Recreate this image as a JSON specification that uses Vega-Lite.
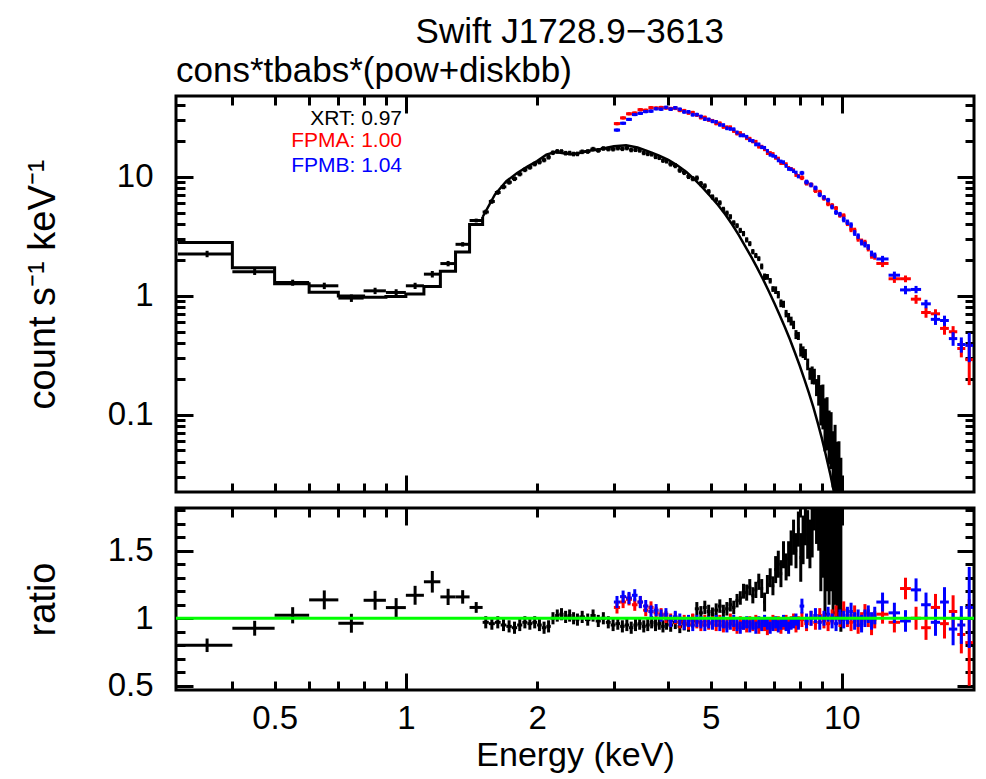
{
"$schema":"https://vega.github.io/schema/vega-lite/v6.json",
"background":"white",
"padding":{"left":22,"top":15,"right":13,"bottom":3},
"title":{"text":"Swift J1728.9−3613","anchor":"middle","fontSize":35,"offset":2,"dx":70},
"spacing":10,
"datasets":{
"xstep":[{"e":0.3,"m":2.81},{"e":0.4,"m":1.72},{"e":0.5,"m":1.265},{"e":0.6,"m":1.068},{"e":0.7,"m":0.993},{"e":0.8,"m":0.971},{"e":0.9,"m":0.988},{"e":1.0,"m":1.037},{"e":1.1,"m":1.197},{"e":1.2,"m":1.61},{"e":1.3,"m":2.34},{"e":1.4,"m":3.98},{"e":1.5,"m":4.6}],
"mod":[
{"e":1.5,"m":4.6},{"e":1.6,"m":7.1},{"e":1.7,"m":9.2},{"e":1.8,"m":10.8},{"e":1.9,"m":12.2},{"e":2.0,"m":13.6},{"e":2.1,"m":15.4},{"e":2.2,"m":16.2},{"e":2.3,"m":15.8},{"e":2.4,"m":15.5},{"e":2.5,"m":15.9},{"e":2.6,"m":16.5},{"e":2.8,"m":17.2},{"e":3.0,"m":18.1},{"e":3.2,"m":18.5},{"e":3.4,"m":17.7},{"e":3.6,"m":16.4},{"e":3.8,"m":15.2},{"e":4.0,"m":13.9},{"e":4.2,"m":12.5},{"e":4.4,"m":11.0},{"e":4.6,"m":9.5},{"e":4.8,"m":8.1},{"e":5.0,"m":6.85},{"e":5.2,"m":5.8},{"e":5.4,"m":4.85},{"e":5.6,"m":4.0},{"e":5.8,"m":3.25},{"e":6.0,"m":2.62},{"e":6.2,"m":2.12},{"e":6.4,"m":1.71},{"e":6.6,"m":1.37},{"e":6.8,"m":1.09},{"e":7.0,"m":0.87},{"e":7.2,"m":0.69},{"e":7.4,"m":0.545},{"e":7.6,"m":0.43},{"e":7.8,"m":0.335},{"e":8.0,"m":0.26},{"e":8.2,"m":0.2},{"e":8.4,"m":0.153},{"e":8.6,"m":0.116},{"e":8.8,"m":0.086},{"e":9.0,"m":0.063},{"e":9.2,"m":0.045},{"e":9.4,"m":0.032},{"e":9.6,"m":0.022},{"e":9.8,"m":0.015},{"e":10.0,"m":0.01}
],
"spec":[
{"i":"XRT","e":0.35,"de":0.05,"y":2.25,"dy":0.14,"r":0.8,"dr":0.05},
{"i":"XRT","e":0.45,"de":0.05,"y":1.59,"dy":0.094,"r":0.926,"dr":0.055},
{"i":"XRT","e":0.55,"de":0.05,"y":1.29,"dy":0.076,"r":1.022,"dr":0.06},
{"i":"XRT","e":0.65,"de":0.05,"y":1.213,"dy":0.075,"r":1.136,"dr":0.07},
{"i":"XRT","e":0.75,"de":0.05,"y":0.956,"dy":0.069,"r":0.963,"dr":0.07},
{"i":"XRT","e":0.85,"de":0.05,"y":1.1,"dy":0.068,"r":1.133,"dr":0.07},
{"i":"XRT","e":0.95,"de":0.05,"y":1.066,"dy":0.069,"r":1.079,"dr":0.07},
{"i":"XRT","e":1.05,"de":0.05,"y":1.213,"dy":0.073,"r":1.17,"dr":0.07},
{"i":"XRT","e":1.15,"de":0.05,"y":1.52,"dy":0.096,"r":1.27,"dr":0.08},
{"i":"XRT","e":1.25,"de":0.05,"y":1.866,"dy":0.097,"r":1.158,"dr":0.06},
{"i":"XRT","e":1.35,"de":0.05,"y":2.71,"dy":0.117,"r":1.158,"dr":0.05},
{"i":"XRT","e":1.45,"de":0.05,"y":4.3,"dy":0.16,"r":1.08,"dr":0.04},
{"i":"XRT","e":1.525,"de":0.025,"y":5.07,"dy":0.23,"r":0.97,"dr":0.045},
{"i":"XRT","e":1.575,"de":0.025,"y":6.22,"dy":0.28,"r":0.96,"dr":0.045},
{"i":"XRT","e":1.625,"de":0.025,"y":7.4,"dy":0.33,"r":0.97,"dr":0.045},
{"i":"XRT","e":1.675,"de":0.025,"y":8.25,"dy":0.37,"r":0.95,"dr":0.045},
{"i":"XRT","e":1.725,"de":0.025,"y":9.02,"dy":0.41,"r":0.94,"dr":0.045},
{"i":"XRT","e":1.775,"de":0.025,"y":9.67,"dy":0.44,"r":0.93,"dr":0.045},
{"i":"XRT","e":1.825,"de":0.025,"y":10.59,"dy":0.48,"r":0.95,"dr":0.045},
{"i":"XRT","e":1.875,"de":0.025,"y":11.49,"dy":0.52,"r":0.97,"dr":0.045},
{"i":"XRT","e":1.925,"de":0.025,"y":12.05,"dy":0.54,"r":0.96,"dr":0.045},
{"i":"XRT","e":1.975,"de":0.025,"y":12.85,"dy":0.58,"r":0.97,"dr":0.045},
{"i":"XRT","e":2.025,"de":0.025,"y":13.35,"dy":0.6,"r":0.95,"dr":0.045},
{"i":"XRT","e":2.075,"de":0.025,"y":13.9,"dy":0.63,"r":0.93,"dr":0.045},
{"i":"XRT","e":2.125,"de":0.025,"y":14.66,"dy":0.66,"r":0.94,"dr":0.045},
{"i":"XRT","e":2.175,"de":0.025,"y":16.0,"dy":0.72,"r":1.0,"dr":0.045},
{"i":"XRT","e":2.225,"de":0.025,"y":16.42,"dy":0.74,"r":1.02,"dr":0.045},
{"i":"XRT","e":2.275,"de":0.025,"y":16.38,"dy":0.74,"r":1.03,"dr":0.045},
{"i":"XRT","e":2.325,"de":0.025,"y":15.86,"dy":0.71,"r":1.01,"dr":0.045},
{"i":"XRT","e":2.375,"de":0.025,"y":15.89,"dy":0.72,"r":1.02,"dr":0.045},
{"i":"XRT","e":2.425,"de":0.025,"y":15.6,"dy":0.7,"r":1.0,"dr":0.045},
{"i":"XRT","e":2.475,"de":0.025,"y":15.64,"dy":0.7,"r":0.99,"dr":0.045},
{"i":"XRT","e":2.538,"de":0.0375,"y":16.29,"dy":0.73,"r":1.01,"dr":0.045},
{"i":"XRT","e":2.613,"de":0.0375,"y":16.38,"dy":0.74,"r":0.99,"dr":0.045},
{"i":"XRT","e":2.688,"de":0.0375,"y":17.15,"dy":0.77,"r":1.02,"dr":0.045},
{"i":"XRT","e":2.763,"de":0.0375,"y":16.73,"dy":0.75,"r":0.98,"dr":0.045},
{"i":"XRT","e":2.838,"de":0.0375,"y":17.37,"dy":0.78,"r":1.0,"dr":0.045},
{"i":"XRT","e":2.913,"de":0.0375,"y":17.18,"dy":0.77,"r":0.97,"dr":0.045},
{"i":"XRT","e":2.988,"de":0.0375,"y":17.15,"dy":0.77,"r":0.95,"dr":0.045},
{"i":"XRT","e":3.063,"de":0.0375,"y":17.5,"dy":0.79,"r":0.96,"dr":0.045},
{"i":"XRT","e":3.138,"de":0.0375,"y":17.28,"dy":0.78,"r":0.94,"dr":0.045},
{"i":"XRT","e":3.213,"de":0.0375,"y":17.53,"dy":0.79,"r":0.95,"dr":0.045},
{"i":"XRT","e":3.288,"de":0.0375,"y":16.88,"dy":0.76,"r":0.93,"dr":0.045},
{"i":"XRT","e":3.363,"de":0.0375,"y":16.96,"dy":0.76,"r":0.95,"dr":0.045},
{"i":"XRT","e":3.438,"de":0.0375,"y":16.75,"dy":0.75,"r":0.96,"dr":0.045},
{"i":"XRT","e":3.513,"de":0.0375,"y":15.95,"dy":0.72,"r":0.94,"dr":0.045},
{"i":"XRT","e":3.588,"de":0.0375,"y":15.66,"dy":0.7,"r":0.95,"dr":0.045},
{"i":"XRT","e":3.663,"de":0.0375,"y":15.54,"dy":0.7,"r":0.97,"dr":0.045},
{"i":"XRT","e":3.738,"de":0.0375,"y":14.79,"dy":0.67,"r":0.95,"dr":0.045},
{"i":"XRT","e":3.813,"de":0.0375,"y":14.52,"dy":0.65,"r":0.96,"dr":0.045},
{"i":"XRT","e":3.888,"de":0.0375,"y":13.75,"dy":0.62,"r":0.94,"dr":0.045},
{"i":"XRT","e":3.963,"de":0.0375,"y":13.57,"dy":0.61,"r":0.96,"dr":0.045},
{"i":"XRT","e":4.05,"de":0.05,"y":12.87,"dy":0.64,"r":0.95,"dr":0.05},
{"i":"XRT","e":4.15,"de":0.05,"y":12.46,"dy":0.62,"r":0.97,"dr":0.05},
{"i":"XRT","e":4.25,"de":0.05,"y":11.4,"dy":0.57,"r":0.94,"dr":0.05},
{"i":"XRT","e":4.35,"de":0.05,"y":10.92,"dy":0.55,"r":0.96,"dr":0.05},
{"i":"XRT","e":4.45,"de":0.05,"y":10.1,"dy":0.5,"r":0.95,"dr":0.05},
{"i":"XRT","e":4.55,"de":0.05,"y":9.68,"dy":0.48,"r":0.98,"dr":0.05},
{"i":"XRT","e":4.65,"de":0.05,"y":9.79,"dy":0.49,"r":1.07,"dr":0.05},
{"i":"XRT","e":4.75,"de":0.05,"y":8.79,"dy":0.44,"r":1.04,"dr":0.05},
{"i":"XRT","e":4.85,"de":0.05,"y":8.41,"dy":0.42,"r":1.08,"dr":0.05},
{"i":"XRT","e":4.95,"de":0.05,"y":7.52,"dy":0.38,"r":1.05,"dr":0.05},
{"i":"XRT","e":5.05,"de":0.05,"y":6.79,"dy":0.34,"r":1.03,"dr":0.05},
{"i":"XRT","e":5.15,"de":0.05,"y":6.42,"dy":0.32,"r":1.06,"dr":0.05},
{"i":"XRT","e":5.25,"de":0.05,"y":6.06,"dy":0.3,"r":1.09,"dr":0.05},
{"i":"XRT","e":5.35,"de":0.05,"y":5.34,"dy":0.27,"r":1.05,"dr":0.05},
{"i":"XRT","e":5.45,"de":0.05,"y":4.96,"dy":0.25,"r":1.07,"dr":0.05},
{"i":"XRT","e":5.55,"de":0.05,"y":4.63,"dy":0.23,"r":1.1,"dr":0.05},
{"i":"XRT","e":5.65,"de":0.05,"y":4.11,"dy":0.21,"r":1.08,"dr":0.05},
{"i":"XRT","e":5.75,"de":0.05,"y":3.89,"dy":0.19,"r":1.13,"dr":0.05},
{"i":"XRT","e":5.85,"de":0.05,"y":3.55,"dy":0.18,"r":1.15,"dr":0.05},
{"i":"XRT","e":5.95,"de":0.05,"y":3.34,"dy":0.17,"r":1.2,"dr":0.055},
{"i":"XRT","e":6.05,"de":0.05,"y":2.957,"dy":0.149,"r":1.19,"dr":0.06},
{"i":"XRT","e":6.15,"de":0.05,"y":2.749,"dy":0.134,"r":1.23,"dr":0.06},
{"i":"XRT","e":6.25,"de":0.05,"y":2.352,"dy":0.121,"r":1.17,"dr":0.06},
{"i":"XRT","e":6.35,"de":0.05,"y":2.184,"dy":0.108,"r":1.21,"dr":0.06},
{"i":"XRT","e":6.45,"de":0.05,"y":2.055,"dy":0.097,"r":1.27,"dr":0.06},
{"i":"XRT","e":6.55,"de":0.05,"y":1.767,"dy":0.101,"r":1.22,"dr":0.07},
{"i":"XRT","e":6.65,"de":0.05,"y":1.448,"dy":0.091,"r":1.12,"dr":0.07},
{"i":"XRT","e":6.75,"de":0.05,"y":1.443,"dy":0.081,"r":1.25,"dr":0.07},
{"i":"XRT","e":6.85,"de":0.05,"y":1.339,"dy":0.072,"r":1.3,"dr":0.07},
{"i":"XRT","e":6.95,"de":0.05,"y":1.141,"dy":0.064,"r":1.24,"dr":0.07},
{"i":"XRT","e":7.05,"de":0.05,"y":1.117,"dy":0.082,"r":1.36,"dr":0.1},
{"i":"XRT","e":7.15,"de":0.05,"y":1.023,"dy":0.073,"r":1.4,"dr":0.1},
{"i":"XRT","e":7.25,"de":0.05,"y":0.866,"dy":0.065,"r":1.33,"dr":0.1},
{"i":"XRT","e":7.35,"de":0.05,"y":0.85,"dy":0.058,"r":1.47,"dr":0.1},
{"i":"XRT","e":7.45,"de":0.05,"y":0.709,"dy":0.051,"r":1.38,"dr":0.1},
{"i":"XRT","e":7.55,"de":0.05,"y":0.657,"dy":0.059,"r":1.44,"dr":0.13},
{"i":"XRT","e":7.65,"de":0.05,"y":0.614,"dy":0.053,"r":1.52,"dr":0.13},
{"i":"XRT","e":7.75,"de":0.05,"y":0.57,"dy":0.046,"r":1.6,"dr":0.13},
{"i":"XRT","e":7.85,"de":0.05,"y":0.473,"dy":0.041,"r":1.5,"dr":0.13},
{"i":"XRT","e":7.95,"de":0.05,"y":0.46,"dy":0.036,"r":1.66,"dr":0.13},
{"i":"XRT","e":8.05,"de":0.05,"y":0.352,"dy":0.044,"r":1.45,"dr":0.18},
{"i":"XRT","e":8.15,"de":0.05,"y":0.337,"dy":0.038,"r":1.58,"dr":0.18},
{"i":"XRT","e":8.25,"de":0.05,"y":0.322,"dy":0.034,"r":1.72,"dr":0.18},
{"i":"XRT","e":8.35,"de":0.05,"y":0.266,"dy":0.03,"r":1.62,"dr":0.18},
{"i":"XRT","e":8.45,"de":0.05,"y":0.222,"dy":0.026,"r":1.55,"dr":0.18},
{"i":"XRT","e":8.55,"de":0.05,"y":0.217,"dy":0.037,"r":1.75,"dr":0.3},
{"i":"XRT","e":8.65,"de":0.05,"y":0.211,"dy":0.032,"r":1.95,"dr":0.3},
{"i":"XRT","e":8.75,"de":0.05,"y":0.171,"dy":0.028,"r":1.85,"dr":0.3},
{"i":"XRT","e":8.85,"de":0.05,"y":0.167,"dy":0.048,"r":2.1,"dr":0.6},
{"i":"XRT","e":8.95,"de":0.05,"y":0.129,"dy":0.048,"r":1.9,"dr":0.7},
{"i":"XRT","e":9.05,"de":0.05,"y":0.127,"dy":0.052,"r":2.2,"dr":0.9},
{"i":"XRT","e":9.15,"de":0.05,"y":0.093,"dy":0.044,"r":1.9,"dr":0.9},
{"i":"XRT","e":9.25,"de":0.05,"y":0.095,"dy":0.045,"r":2.3,"dr":1.1},
{"i":"XRT","e":9.35,"de":0.05,"y":0.0731,"dy":0.035,"r":2.1,"dr":1.0},
{"i":"XRT","e":9.45,"de":0.05,"y":0.0698,"dy":0.035,"r":2.4,"dr":1.2},
{"i":"XRT","e":9.55,"de":0.05,"y":0.0484,"dy":0.024,"r":2.0,"dr":1.0},
{"i":"XRT","e":9.65,"de":0.05,"y":0.052,"dy":0.03,"r":2.6,"dr":1.5},
{"i":"XRT","e":9.75,"de":0.05,"y":0.038,"dy":0.021,"r":2.3,"dr":1.3},
{"i":"XRT","e":9.85,"de":0.05,"y":0.0366,"dy":0.023,"r":2.7,"dr":1.7},
{"i":"XRT","e":9.95,"de":0.05,"y":0.0266,"dy":0.0167,"r":2.4,"dr":1.5},
{"i":"FPMA","e":3.05,"de":0.05,"y":28.1,"dy":0.91,"r":1.08,"dr":0.045},
{"i":"FPMA","e":3.15,"de":0.05,"y":31.4,"dy":0.98,"r":1.12,"dr":0.045},
{"i":"FPMA","e":3.25,"de":0.05,"y":34.0,"dy":1.05,"r":1.14,"dr":0.045},
{"i":"FPMA","e":3.35,"de":0.05,"y":34.5,"dy":1.09,"r":1.1,"dr":0.045},
{"i":"FPMA","e":3.45,"de":0.05,"y":36.8,"dy":1.15,"r":1.12,"dr":0.045},
{"i":"FPMA","e":3.55,"de":0.05,"y":36.4,"dy":1.2,"r":1.06,"dr":0.045},
{"i":"FPMA","e":3.65,"de":0.05,"y":38.3,"dy":1.25,"r":1.08,"dr":0.045},
{"i":"FPMA","e":3.75,"de":0.05,"y":38.0,"dy":1.27,"r":1.04,"dr":0.045},
{"i":"FPMA","e":3.85,"de":0.05,"y":38.4,"dy":1.3,"r":1.03,"dr":0.045},
{"i":"FPMA","e":3.95,"de":0.05,"y":38.1,"dy":1.32,"r":1.01,"dr":0.045},
{"i":"FPMA","e":4.05,"de":0.05,"y":37.6,"dy":1.33,"r":0.99,"dr":0.045},
{"i":"FPMA","e":4.15,"de":0.05,"y":37.85,"dy":1.33,"r":1.0,"dr":0.045},
{"i":"FPMA","e":4.25,"de":0.05,"y":36.4,"dy":1.32,"r":0.97,"dr":0.045},
{"i":"FPMA","e":4.35,"de":0.05,"y":36.1,"dy":1.29,"r":0.98,"dr":0.045},
{"i":"FPMA","e":4.45,"de":0.05,"y":34.6,"dy":1.26,"r":0.96,"dr":0.045},
{"i":"FPMA","e":4.55,"de":0.05,"y":34.8,"dy":1.23,"r":0.99,"dr":0.045},
{"i":"FPMA","e":4.65,"de":0.05,"y":33.2,"dy":1.2,"r":0.97,"dr":0.045},
{"i":"FPMA","e":4.75,"de":0.05,"y":31.6,"dy":1.16,"r":0.95,"dr":0.045},
{"i":"FPMA","e":4.85,"de":0.05,"y":31.7,"dy":1.13,"r":0.98,"dr":0.045},
{"i":"FPMA","e":4.95,"de":0.05,"y":30.2,"dy":1.1,"r":0.96,"dr":0.045},
{"i":"FPMA","e":5.05,"de":0.05,"y":29.7,"dy":1.07,"r":0.97,"dr":0.045},
{"i":"FPMA","e":5.15,"de":0.05,"y":28.2,"dy":1.04,"r":0.95,"dr":0.045},
{"i":"FPMA","e":5.25,"de":0.05,"y":28.3,"dy":1.01,"r":0.98,"dr":0.045},
{"i":"FPMA","e":5.35,"de":0.05,"y":26.4,"dy":0.98,"r":0.94,"dr":0.045},
{"i":"FPMA","e":5.45,"de":0.05,"y":26.2,"dy":0.96,"r":0.96,"dr":0.045},
{"i":"FPMA","e":5.55,"de":0.05,"y":26.2,"dy":0.93,"r":0.99,"dr":0.045},
{"i":"FPMA","e":5.65,"de":0.05,"y":24.4,"dy":0.9,"r":0.95,"dr":0.045},
{"i":"FPMA","e":5.75,"de":0.05,"y":23.2,"dy":0.87,"r":0.93,"dr":0.045},
{"i":"FPMA","e":5.85,"de":0.05,"y":23.4,"dy":0.84,"r":0.97,"dr":0.045},
{"i":"FPMA","e":5.95,"de":0.05,"y":22.4,"dy":0.82,"r":0.96,"dr":0.045},
{"i":"FPMA","e":6.05,"de":0.05,"y":21.2,"dy":0.79,"r":0.94,"dr":0.045},
{"i":"FPMA","e":6.15,"de":0.05,"y":21.0,"dy":0.76,"r":0.97,"dr":0.045},
{"i":"FPMA","e":6.25,"de":0.05,"y":19.9,"dy":0.73,"r":0.95,"dr":0.045},
{"i":"FPMA","e":6.35,"de":0.05,"y":19.8,"dy":0.71,"r":0.98,"dr":0.045},
{"i":"FPMA","e":6.45,"de":0.05,"y":18.0,"dy":0.68,"r":0.93,"dr":0.045},
{"i":"FPMA","e":6.55,"de":0.05,"y":18.0,"dy":0.65,"r":0.96,"dr":0.045},
{"i":"FPMA","e":6.65,"de":0.05,"y":17.1,"dy":0.63,"r":0.95,"dr":0.045},
{"i":"FPMA","e":6.75,"de":0.05,"y":15.9,"dy":0.6,"r":0.92,"dr":0.045},
{"i":"FPMA","e":6.85,"de":0.05,"y":15.9,"dy":0.58,"r":0.96,"dr":0.045},
{"i":"FPMA","e":6.95,"de":0.05,"y":15.6,"dy":0.56,"r":0.98,"dr":0.045},
{"i":"FPMA","e":7.05,"de":0.05,"y":14.5,"dy":0.54,"r":0.95,"dr":0.045},
{"i":"FPMA","e":7.15,"de":0.05,"y":14.3,"dy":0.51,"r":0.97,"dr":0.045},
{"i":"FPMA","e":7.25,"de":0.05,"y":13.1,"dy":0.49,"r":0.93,"dr":0.045},
{"i":"FPMA","e":7.35,"de":0.05,"y":13.1,"dy":0.48,"r":0.96,"dr":0.045},
{"i":"FPMA","e":7.45,"de":0.05,"y":12.8,"dy":0.46,"r":0.98,"dr":0.045},
{"i":"FPMA","e":7.55,"de":0.05,"y":11.9,"dy":0.44,"r":0.95,"dr":0.045},
{"i":"FPMA","e":7.65,"de":0.05,"y":11.7,"dy":0.42,"r":0.97,"dr":0.045},
{"i":"FPMA","e":7.75,"de":0.05,"y":11.4,"dy":0.4,"r":0.99,"dr":0.045},
{"i":"FPMA","e":7.85,"de":0.05,"y":10.4,"dy":0.39,"r":0.94,"dr":0.045},
{"i":"FPMA","e":7.95,"de":0.05,"y":10.2,"dy":0.37,"r":0.97,"dr":0.045},
{"i":"FPMA","e":8.1,"de":0.1,"y":9.85,"dy":0.45,"r":0.99,"dr":0.055},
{"i":"FPMA","e":8.3,"de":0.1,"y":8.88,"dy":0.42,"r":0.96,"dr":0.055},
{"i":"FPMA","e":8.5,"de":0.1,"y":8.58,"dy":0.39,"r":1.0,"dr":0.055},
{"i":"FPMA","e":8.7,"de":0.1,"y":7.69,"dy":0.36,"r":0.97,"dr":0.055},
{"i":"FPMA","e":8.9,"de":0.1,"y":7.46,"dy":0.33,"r":1.02,"dr":0.055},
{"i":"FPMA","e":9.1,"de":0.1,"y":6.61,"dy":0.3,"r":0.98,"dr":0.055},
{"i":"FPMA","e":9.3,"de":0.1,"y":5.95,"dy":0.28,"r":0.96,"dr":0.055},
{"i":"FPMA","e":9.5,"de":0.1,"y":5.76,"dy":0.26,"r":1.01,"dr":0.055},
{"i":"FPMA","e":9.7,"de":0.1,"y":5.45,"dy":0.24,"r":1.04,"dr":0.055},
{"i":"FPMA","e":9.9,"de":0.1,"y":4.76,"dy":0.22,"r":0.99,"dr":0.055},
{"i":"FPMA","e":10.1,"de":0.1,"y":4.7,"dy":0.24,"r":1.06,"dr":0.065},
{"i":"FPMA","e":10.3,"de":0.1,"y":4.08,"dy":0.22,"r":1.0,"dr":0.065},
{"i":"FPMA","e":10.5,"de":0.1,"y":3.64,"dy":0.21,"r":0.97,"dr":0.065},
{"i":"FPMA","e":10.7,"de":0.1,"y":3.55,"dy":0.19,"r":1.03,"dr":0.065},
{"i":"FPMA","e":10.9,"de":0.1,"y":3.02,"dy":0.17,"r":0.95,"dr":0.065},
{"i":"FPMA","e":11.1,"de":0.1,"y":2.87,"dy":0.16,"r":0.98,"dr":0.065},
{"i":"FPMA","e":11.3,"de":0.1,"y":2.81,"dy":0.15,"r":1.04,"dr":0.065},
{"i":"FPMA","e":11.5,"de":0.1,"y":2.5,"dy":0.14,"r":1.0,"dr":0.065},
{"i":"FPMA","e":11.7,"de":0.1,"y":2.18,"dy":0.13,"r":0.94,"dr":0.065},
{"i":"FPMA","e":11.9,"de":0.1,"y":2.13,"dy":0.12,"r":0.99,"dr":0.065},
{"i":"FPMA","e":12.4,"de":0.4,"y":1.87,"dy":0.127,"r":1.03,"dr":0.07},
{"i":"FPMA","e":13.2,"de":0.4,"y":1.39,"dy":0.107,"r":0.97,"dr":0.075},
{"i":"FPMA","e":14.0,"de":0.4,"y":1.39,"dy":0.091,"r":1.22,"dr":0.08},
{"i":"FPMA","e":14.8,"de":0.4,"y":0.936,"dy":0.08,"r":1.0,"dr":0.085},
{"i":"FPMA","e":15.6,"de":0.4,"y":0.723,"dy":0.07,"r":0.93,"dr":0.09},
{"i":"FPMA","e":16.4,"de":0.4,"y":0.705,"dy":0.065,"r":1.08,"dr":0.1},
{"i":"FPMA","e":17.2,"de":0.4,"y":0.531,"dy":0.061,"r":0.96,"dr":0.11},
{"i":"FPMA","e":18.0,"de":0.4,"y":0.498,"dy":0.057,"r":1.05,"dr":0.12},
{"i":"FPMA","e":18.8,"de":0.4,"y":0.36,"dy":0.057,"r":0.88,"dr":0.14},
{"i":"FPMA","e":19.6,"de":0.4,"y":0.29,"dy":0.113,"r":0.82,"dr":0.32},
{"i":"FPMB","e":3.05,"de":0.05,"y":24.8,"dy":0.77,"r":1.12,"dr":0.045},
{"i":"FPMB","e":3.15,"de":0.05,"y":28.3,"dy":0.85,"r":1.16,"dr":0.045},
{"i":"FPMB","e":3.25,"de":0.05,"y":30.5,"dy":0.92,"r":1.15,"dr":0.045},
{"i":"FPMB","e":3.35,"de":0.05,"y":33.5,"dy":1.0,"r":1.17,"dr":0.045},
{"i":"FPMB","e":3.45,"de":0.05,"y":34.3,"dy":1.08,"r":1.12,"dr":0.045},
{"i":"FPMB","e":3.55,"de":0.05,"y":35.5,"dy":1.13,"r":1.09,"dr":0.045},
{"i":"FPMB","e":3.65,"de":0.05,"y":35.8,"dy":1.19,"r":1.05,"dr":0.045},
{"i":"FPMB","e":3.75,"de":0.05,"y":37.5,"dy":1.23,"r":1.06,"dr":0.045},
{"i":"FPMB","e":3.85,"de":0.05,"y":37.2,"dy":1.27,"r":1.02,"dr":0.045},
{"i":"FPMB","e":3.95,"de":0.05,"y":38.5,"dy":1.3,"r":1.03,"dr":0.045},
{"i":"FPMB","e":4.05,"de":0.05,"y":37.2,"dy":1.33,"r":0.98,"dr":0.045},
{"i":"FPMB","e":4.15,"de":0.05,"y":38.2,"dy":1.33,"r":1.01,"dr":0.045},
{"i":"FPMB","e":4.25,"de":0.05,"y":37.1,"dy":1.32,"r":0.99,"dr":0.045},
{"i":"FPMB","e":4.35,"de":0.05,"y":35.3,"dy":1.29,"r":0.96,"dr":0.045},
{"i":"FPMB","e":4.45,"de":0.05,"y":35.3,"dy":1.26,"r":0.98,"dr":0.045},
{"i":"FPMB","e":4.55,"de":0.05,"y":33.4,"dy":1.23,"r":0.95,"dr":0.045},
{"i":"FPMB","e":4.65,"de":0.05,"y":33.5,"dy":1.2,"r":0.98,"dr":0.045},
{"i":"FPMB","e":4.75,"de":0.05,"y":32.3,"dy":1.16,"r":0.97,"dr":0.045},
{"i":"FPMB","e":4.85,"de":0.05,"y":30.7,"dy":1.13,"r":0.95,"dr":0.045},
{"i":"FPMB","e":4.95,"de":0.05,"y":30.5,"dy":1.1,"r":0.97,"dr":0.045},
{"i":"FPMB","e":5.05,"de":0.05,"y":29.4,"dy":1.07,"r":0.96,"dr":0.045},
{"i":"FPMB","e":5.15,"de":0.05,"y":29.1,"dy":1.04,"r":0.98,"dr":0.045},
{"i":"FPMB","e":5.25,"de":0.05,"y":27.5,"dy":1.01,"r":0.95,"dr":0.045},
{"i":"FPMB","e":5.35,"de":0.05,"y":27.3,"dy":0.98,"r":0.97,"dr":0.045},
{"i":"FPMB","e":5.45,"de":0.05,"y":25.7,"dy":0.96,"r":0.94,"dr":0.045},
{"i":"FPMB","e":5.55,"de":0.05,"y":25.4,"dy":0.93,"r":0.96,"dr":0.045},
{"i":"FPMB","e":5.65,"de":0.05,"y":25.2,"dy":0.9,"r":0.98,"dr":0.045},
{"i":"FPMB","e":5.75,"de":0.05,"y":23.7,"dy":0.87,"r":0.95,"dr":0.045},
{"i":"FPMB","e":5.85,"de":0.05,"y":22.4,"dy":0.84,"r":0.93,"dr":0.045},
{"i":"FPMB","e":5.95,"de":0.05,"y":22.4,"dy":0.82,"r":0.96,"dr":0.045},
{"i":"FPMB","e":6.05,"de":0.05,"y":21.8,"dy":0.79,"r":0.97,"dr":0.045},
{"i":"FPMB","e":6.15,"de":0.05,"y":20.4,"dy":0.76,"r":0.94,"dr":0.045},
{"i":"FPMB","e":6.25,"de":0.05,"y":20.1,"dy":0.73,"r":0.96,"dr":0.045},
{"i":"FPMB","e":6.35,"de":0.05,"y":18.8,"dy":0.71,"r":0.93,"dr":0.045},
{"i":"FPMB","e":6.45,"de":0.05,"y":18.8,"dy":0.68,"r":0.97,"dr":0.045},
{"i":"FPMB","e":6.55,"de":0.05,"y":17.8,"dy":0.65,"r":0.95,"dr":0.045},
{"i":"FPMB","e":6.65,"de":0.05,"y":17.6,"dy":0.63,"r":0.98,"dr":0.045},
{"i":"FPMB","e":6.75,"de":0.05,"y":16.6,"dy":0.6,"r":0.96,"dr":0.045},
{"i":"FPMB","e":6.85,"de":0.05,"y":15.4,"dy":0.58,"r":0.93,"dr":0.045},
{"i":"FPMB","e":6.95,"de":0.05,"y":15.1,"dy":0.56,"r":0.95,"dr":0.045},
{"i":"FPMB","e":7.05,"de":0.05,"y":14.8,"dy":0.54,"r":0.97,"dr":0.045},
{"i":"FPMB","e":7.15,"de":0.05,"y":13.8,"dy":0.51,"r":0.94,"dr":0.045},
{"i":"FPMB","e":7.25,"de":0.05,"y":13.5,"dy":0.49,"r":0.96,"dr":0.045},
{"i":"FPMB","e":7.35,"de":0.05,"y":13.3,"dy":0.48,"r":0.98,"dr":0.045},
{"i":"FPMB","e":7.45,"de":0.05,"y":12.4,"dy":0.46,"r":0.95,"dr":0.045},
{"i":"FPMB","e":7.55,"de":0.05,"y":11.7,"dy":0.44,"r":0.93,"dr":0.045},
{"i":"FPMB","e":7.65,"de":0.05,"y":11.6,"dy":0.42,"r":0.96,"dr":0.045},
{"i":"FPMB","e":7.75,"de":0.05,"y":11.2,"dy":0.4,"r":0.97,"dr":0.045},
{"i":"FPMB","e":7.85,"de":0.05,"y":10.9,"dy":0.39,"r":0.99,"dr":0.045},
{"i":"FPMB","e":7.95,"de":0.05,"y":10.1,"dy":0.37,"r":0.96,"dr":0.045},
{"i":"FPMB","e":8.1,"de":0.1,"y":10.8,"dy":0.45,"r":1.09,"dr":0.055},
{"i":"FPMB","e":8.3,"de":0.1,"y":9.07,"dy":0.42,"r":0.98,"dr":0.055},
{"i":"FPMB","e":8.5,"de":0.1,"y":8.58,"dy":0.39,"r":1.0,"dr":0.055},
{"i":"FPMB","e":8.7,"de":0.1,"y":8.09,"dy":0.36,"r":1.02,"dr":0.055},
{"i":"FPMB","e":8.9,"de":0.1,"y":7.09,"dy":0.33,"r":0.97,"dr":0.055},
{"i":"FPMB","e":9.1,"de":0.1,"y":6.74,"dy":0.3,"r":1.0,"dr":0.055},
{"i":"FPMB","e":9.3,"de":0.1,"y":6.39,"dy":0.28,"r":1.03,"dr":0.055},
{"i":"FPMB","e":9.5,"de":0.1,"y":5.59,"dy":0.26,"r":0.98,"dr":0.055},
{"i":"FPMB","e":9.7,"de":0.1,"y":5.03,"dy":0.24,"r":0.96,"dr":0.055},
{"i":"FPMB","e":9.9,"de":0.1,"y":4.86,"dy":0.22,"r":1.01,"dr":0.055},
{"i":"FPMB","e":10.1,"de":0.1,"y":4.39,"dy":0.24,"r":0.99,"dr":0.065},
{"i":"FPMB","e":10.3,"de":0.1,"y":4.16,"dy":0.22,"r":1.02,"dr":0.065},
{"i":"FPMB","e":10.5,"de":0.1,"y":3.94,"dy":0.21,"r":1.05,"dr":0.065},
{"i":"FPMB","e":10.7,"de":0.1,"y":3.38,"dy":0.19,"r":0.98,"dr":0.065},
{"i":"FPMB","e":10.9,"de":0.1,"y":3.18,"dy":0.17,"r":1.0,"dr":0.065},
{"i":"FPMB","e":11.1,"de":0.1,"y":2.81,"dy":0.16,"r":0.96,"dr":0.065},
{"i":"FPMB","e":11.3,"de":0.1,"y":2.7,"dy":0.15,"r":1.0,"dr":0.065},
{"i":"FPMB","e":11.5,"de":0.1,"y":2.58,"dy":0.14,"r":1.03,"dr":0.065},
{"i":"FPMB","e":11.7,"de":0.1,"y":2.27,"dy":0.13,"r":0.98,"dr":0.065},
{"i":"FPMB","e":11.9,"de":0.1,"y":2.19,"dy":0.12,"r":1.02,"dr":0.065},
{"i":"FPMB","e":12.4,"de":0.4,"y":2.04,"dy":0.127,"r":1.12,"dr":0.07},
{"i":"FPMB","e":13.2,"de":0.4,"y":1.49,"dy":0.107,"r":1.04,"dr":0.075},
{"i":"FPMB","e":14.0,"de":0.4,"y":1.12,"dy":0.091,"r":0.98,"dr":0.08},
{"i":"FPMB","e":14.8,"de":0.4,"y":1.13,"dy":0.08,"r":1.21,"dr":0.085},
{"i":"FPMB","e":15.6,"de":0.4,"y":0.855,"dy":0.07,"r":1.1,"dr":0.09},
{"i":"FPMB","e":16.4,"de":0.4,"y":0.633,"dy":0.065,"r":0.97,"dr":0.1},
{"i":"FPMB","e":17.2,"de":0.4,"y":0.619,"dy":0.061,"r":1.12,"dr":0.11},
{"i":"FPMB","e":18.0,"de":0.4,"y":0.436,"dy":0.057,"r":0.92,"dr":0.12},
{"i":"FPMB","e":18.8,"de":0.4,"y":0.389,"dy":0.057,"r":0.95,"dr":0.14},
{"i":"FPMB","e":19.6,"de":0.4,"y":0.382,"dy":0.106,"r":1.08,"dr":0.3}
]
},
"vconcat":[
{
"width":798,"height":396,
"title":{"text":"cons*tbabs*(pow+diskbb)","anchor":"start","frame":"group","fontSize":35,"offset":6},
"resolve":{"axis":{"x":"independent","y":"independent"}},
"layer":[
{"data":{"name":"xstep"},"mark":{"type":"line","interpolate":"step-after","color":"#000000","strokeWidth":3,"clip":true},
 "encoding":{"x":{"field":"e","type":"quantitative","scale":{"type":"log","domain":[0.297,20.1],"nice":false},"axis":null},
 "y":{"field":"m","type":"quantitative","scale":{"type":"log","domain":[0.0223,48],"nice":false},"axis":null}}},
{"data":{"name":"mod"},"mark":{"type":"line","strokeWidth":2.5,"clip":true,"color":"#000000"},
 "encoding":{"x":{"field":"e","type":"quantitative","scale":{"type":"log","domain":[0.297,20.1],"nice":false},"axis":null},
 "y":{"field":"m","type":"quantitative","scale":{"type":"log","domain":[0.0223,48],"nice":false},"axis":null}}},
{"data":{"name":"spec"},"mark":{"type":"errorbar","thickness":3,"clip":true},
 "encoding":{"x":{"field":"e","type":"quantitative","scale":{"type":"log","domain":[0.297,20.1],"nice":false},"axis":null},
 "xError":{"field":"de"},
 "y":{"field":"y","type":"quantitative","scale":{"type":"log","domain":[0.0223,48],"nice":false},"axis":null},
 "color":{"field":"i","type":"nominal","scale":{"domain":["XRT","FPMA","FPMB"],"range":["#000000","#ff0000","#0000ff"]},"legend":null}}},
{"data":{"name":"spec"},"mark":{"type":"errorbar","thickness":3,"clip":true},
 "encoding":{"x":{"field":"e","type":"quantitative","scale":{"type":"log","domain":[0.297,20.1],"nice":false},"axis":null},
 "y":{"field":"y","type":"quantitative","scale":{"type":"log","domain":[0.0223,48],"nice":false},"axis":null},
 "yError":{"field":"dy"},
 "color":{"field":"i","type":"nominal","scale":{"domain":["XRT","FPMA","FPMB"],"range":["#000000","#ff0000","#0000ff"]},"legend":null}}},
{"data":{"values":[{"label":"XRT: 0.97"}]},"mark":{"type":"text","align":"right","baseline":"middle","fontSize":21,"color":"#000000"},
 "encoding":{"x":{"datum":0.98,"type":"quantitative","scale":{"type":"log","domain":[0.297,20.1],"nice":false},"axis":null},
 "y":{"datum":30.5,"type":"quantitative","scale":{"type":"log","domain":[0.0223,48],"nice":false},"axis":null},
 "text":{"field":"label"}}},
{"data":{"values":[{"label":"FPMA: 1.00"}]},"mark":{"type":"text","align":"right","baseline":"middle","fontSize":21,"color":"#ff0000"},
 "encoding":{"x":{"datum":0.98,"type":"quantitative","scale":{"type":"log","domain":[0.297,20.1],"nice":false},"axis":null},
 "y":{"datum":19.9,"type":"quantitative","scale":{"type":"log","domain":[0.0223,48],"nice":false},"axis":null},
 "text":{"field":"label"}}},
{"data":{"values":[{"label":"FPMB: 1.04"}]},"mark":{"type":"text","align":"right","baseline":"middle","fontSize":21,"color":"#0000ff"},
 "encoding":{"x":{"datum":0.98,"type":"quantitative","scale":{"type":"log","domain":[0.297,20.1],"nice":false},"axis":null},
 "y":{"datum":12.3,"type":"quantitative","scale":{"type":"log","domain":[0.0223,48],"nice":false},"axis":null},
 "text":{"field":"label"}}},
{"data":{"name":"xstep"},"mark":{"type":"point","opacity":0,"clip":true},
 "encoding":{"x":{"field":"e","type":"quantitative","scale":{"type":"log","domain":[0.297,20.1],"nice":false},"axis":null},
 "y":{"field":"m","type":"quantitative","scale":{"type":"log","domain":[0.0223,48],"nice":false},"axis":{"orient":"left","values":[0.1,1,10],"ticks":false,"labelPadding":23,"format":"~g","title":"count s⁻¹ keV⁻¹","titleFontSize":38,"titlePadding":45,"titleY":188}}}},
{"data":{"name":"xstep"},"mark":{"type":"point","opacity":0,"clip":true},
 "encoding":{"x":{"field":"e","type":"quantitative","scale":{"type":"log","domain":[0.297,20.1],"nice":false},"axis":{"orient":"bottom","values":[1,10],"tickSize":-17,"labels":false,"title":null}},
 "y":{"field":"m","type":"quantitative","scale":{"type":"log","domain":[0.0223,48],"nice":false},"axis":{"orient":"left","values":[0.1,1,10],"tickSize":-17,"labels":false,"title":null}}}},
{"data":{"name":"xstep"},"mark":{"type":"point","opacity":0,"clip":true},
 "encoding":{"x":{"field":"e","type":"quantitative","scale":{"type":"log","domain":[0.297,20.1],"nice":false},"axis":{"orient":"bottom","values":[0.4,0.5,0.6,0.7,0.8,0.9,2,3,4,5,6,7,8,9],"tickSize":-9,"labels":false,"title":null}},
 "y":{"field":"m","type":"quantitative","scale":{"type":"log","domain":[0.0223,48],"nice":false},"axis":{"orient":"left","values":[0.03,0.04,0.05,0.06,0.07,0.08,0.09,0.2,0.3,0.4,0.5,0.6,0.7,0.8,0.9,2,3,4,5,6,7,8,9,20,30,40],"tickSize":-9,"labels":false,"title":null}}}},
{"data":{"name":"xstep"},"mark":{"type":"point","opacity":0,"clip":true},
 "encoding":{"x":{"field":"e","type":"quantitative","scale":{"type":"log","domain":[0.297,20.1],"nice":false},"axis":{"orient":"top","values":[1,10],"tickSize":-17,"labels":false,"title":null}},
 "y":{"field":"m","type":"quantitative","scale":{"type":"log","domain":[0.0223,48],"nice":false},"axis":{"orient":"right","values":[0.1,1,10],"tickSize":-17,"labels":false,"title":null}}}},
{"data":{"name":"xstep"},"mark":{"type":"point","opacity":0,"clip":true},
 "encoding":{"x":{"field":"e","type":"quantitative","scale":{"type":"log","domain":[0.297,20.1],"nice":false},"axis":{"orient":"top","values":[0.4,0.5,0.6,0.7,0.8,0.9,2,3,4,5,6,7,8,9],"tickSize":-9,"labels":false,"title":null}},
 "y":{"field":"m","type":"quantitative","scale":{"type":"log","domain":[0.0223,48],"nice":false},"axis":{"orient":"right","values":[0.03,0.04,0.05,0.06,0.07,0.08,0.09,0.2,0.3,0.4,0.5,0.6,0.7,0.8,0.9,2,3,4,5,6,7,8,9,20,30,40],"tickSize":-9,"labels":false,"title":null}}}}
]
},
{
"width":798,"height":182,
"resolve":{"axis":{"x":"independent","y":"independent"}},
"layer":[
{"data":{"name":"spec"},"mark":{"type":"errorbar","thickness":3,"clip":true},
 "encoding":{"x":{"field":"e","type":"quantitative","scale":{"type":"log","domain":[0.297,20.1],"nice":false},"axis":null},
 "xError":{"field":"de"},
 "y":{"field":"r","type":"quantitative","scale":{"type":"linear","domain":[0.469,1.816],"nice":false,"zero":false},"axis":null},
 "color":{"field":"i","type":"nominal","scale":{"domain":["XRT","FPMA","FPMB"],"range":["#000000","#ff0000","#0000ff"]},"legend":null}}},
{"data":{"name":"spec"},"mark":{"type":"errorbar","thickness":3,"clip":true},
 "encoding":{"x":{"field":"e","type":"quantitative","scale":{"type":"log","domain":[0.297,20.1],"nice":false},"axis":null},
 "y":{"field":"r","type":"quantitative","scale":{"type":"linear","domain":[0.469,1.816],"nice":false,"zero":false},"axis":null},
 "yError":{"field":"dr"},
 "color":{"field":"i","type":"nominal","scale":{"domain":["XRT","FPMA","FPMB"],"range":["#000000","#ff0000","#0000ff"]},"legend":null}}},
{"data":{"values":[{"unity":1}]},"mark":{"type":"rule","color":"#00ff00","strokeWidth":3},
 "encoding":{"y":{"field":"unity","type":"quantitative","scale":{"type":"linear","domain":[0.469,1.816],"nice":false,"zero":false},"axis":null}}},
{"data":{"name":"xstep"},"mark":{"type":"point","opacity":0,"clip":true},
 "encoding":{"x":{"field":"e","type":"quantitative","scale":{"type":"log","domain":[0.297,20.1],"nice":false},"axis":{"orient":"bottom","values":[0.5,1,2,5,10],"ticks":false,"labelPadding":12,"format":"~g","title":"Energy (keV)","titleFontSize":34,"titlePadding":3}},
 "y":{"field":"m","type":"quantitative","scale":{"type":"linear","domain":[0.469,1.816],"nice":false,"zero":false},"axis":{"orient":"left","values":[0.5,1,1.5],"ticks":false,"labelPadding":23,"format":"~g","title":"ratio","titleFontSize":38,"titlePadding":45}}}},
{"data":{"name":"xstep"},"mark":{"type":"point","opacity":0,"clip":true},
 "encoding":{"x":{"field":"e","type":"quantitative","scale":{"type":"log","domain":[0.297,20.1],"nice":false},"axis":{"orient":"bottom","values":[1,10],"tickSize":-17,"labels":false,"title":null}},
 "y":{"field":"m","type":"quantitative","scale":{"type":"linear","domain":[0.469,1.816],"nice":false,"zero":false},"axis":{"orient":"left","values":[0.5,1,1.5],"tickSize":-17,"labels":false,"title":null}}}},
{"data":{"name":"xstep"},"mark":{"type":"point","opacity":0,"clip":true},
 "encoding":{"x":{"field":"e","type":"quantitative","scale":{"type":"log","domain":[0.297,20.1],"nice":false},"axis":{"orient":"bottom","values":[0.4,0.5,0.6,0.7,0.8,0.9,2,3,4,5,6,7,8,9],"tickSize":-9,"labels":false,"title":null}},
 "y":{"field":"m","type":"quantitative","scale":{"type":"linear","domain":[0.469,1.816],"nice":false,"zero":false},"axis":{"orient":"left","values":[0.6,0.7,0.8,0.9,1.1,1.2,1.3,1.4,1.6,1.7,1.8],"tickSize":-9,"labels":false,"title":null}}}},
{"data":{"name":"xstep"},"mark":{"type":"point","opacity":0,"clip":true},
 "encoding":{"x":{"field":"e","type":"quantitative","scale":{"type":"log","domain":[0.297,20.1],"nice":false},"axis":{"orient":"top","values":[1,10],"tickSize":-17,"labels":false,"title":null}},
 "y":{"field":"m","type":"quantitative","scale":{"type":"linear","domain":[0.469,1.816],"nice":false,"zero":false},"axis":{"orient":"right","values":[0.5,1,1.5],"tickSize":-17,"labels":false,"title":null}}}},
{"data":{"name":"xstep"},"mark":{"type":"point","opacity":0,"clip":true},
 "encoding":{"x":{"field":"e","type":"quantitative","scale":{"type":"log","domain":[0.297,20.1],"nice":false},"axis":{"orient":"top","values":[0.4,0.5,0.6,0.7,0.8,0.9,2,3,4,5,6,7,8,9],"tickSize":-9,"labels":false,"title":null}},
 "y":{"field":"m","type":"quantitative","scale":{"type":"linear","domain":[0.469,1.816],"nice":false,"zero":false},"axis":{"orient":"right","values":[0.6,0.7,0.8,0.9,1.1,1.2,1.3,1.4,1.6,1.7,1.8],"tickSize":-9,"labels":false,"title":null}}}}
]
}
],
"config":{
"font":"Liberation Sans",
"view":{"stroke":"#000000","strokeWidth":3},
"axis":{"grid":false,"domain":false,"tickColor":"#000000","tickWidth":3,"labelColor":"#000000","titleColor":"#000000","labelFont":"Liberation Sans","titleFont":"Liberation Sans","labelFontSize":33,"titleFontSize":33,"titleFontWeight":"normal","labelOverlap":false,"labelFlush":false,"labelBound":false},
"title":{"font":"Liberation Sans","fontWeight":"normal","color":"#000000"},
"text":{"font":"Liberation Sans"}
}
}
